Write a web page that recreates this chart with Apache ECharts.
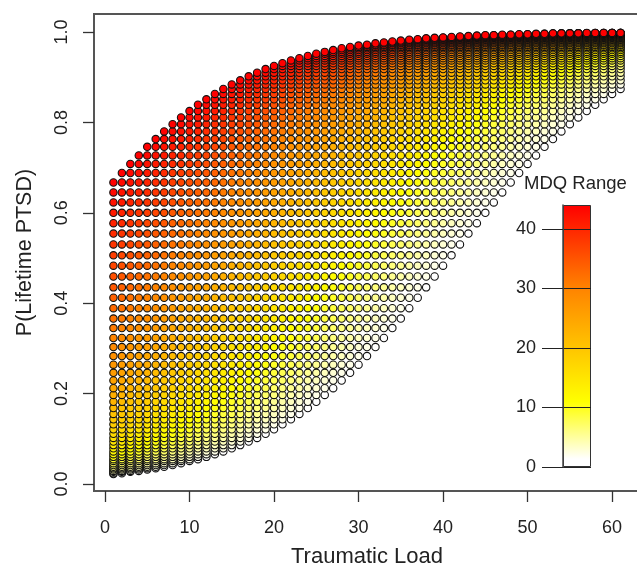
<!DOCTYPE html>
<html><head><meta charset="utf-8">
<style>html,body{margin:0;padding:0;background:#fff;overflow:hidden}#c{width:637px;height:565px}</style>
<script src="https://cdn.jsdelivr.net/npm/echarts@6/dist/echarts.min.js"></script>
</head><body><div id="c"></div>
<script>
// Traumatic load, one column of circles per value
var traumaticLoad=[];for(var t=1;t<=61;t++)traumaticLoad.push(t);
var xTicks=[0,10,20,30,40,50,60];
var yTicks=[0,0.2,0.4,0.6,0.8,1];
var barTicks=[0,10,20,30,40];
var mdqMax=[44];
// P(Lifetime PTSD) x 1000, one row per MDQ level, lowest level first
var pRows=[
[22,24,27,29,32,35,38,42,46,51,55,60,66,72,79,86,94,102,111,121,132,143,155,168,182,197,212,229,246,264,283,303,323,345,366,389,412,435,459,483,506,530,554,577,600,623,645,667,688,708,727,746,763,780,796,811,825,839,851,863,874],
[24,27,29,32,35,38,42,46,51,55,60,66,72,79,86,94,102,111,121,132,143,155,168,182,197,212,229,246,264,283,303,323,345,366,389,412,435,459,483,506,530,554,577,600,623,645,667,688,708,727,746,763,780,796,811,825,839,851,863,874,884],
[27,29,32,35,38,42,46,51,55,60,66,72,79,86,94,102,111,121,132,143,155,168,182,197,212,229,246,264,283,303,323,345,366,389,412,435,459,483,506,530,554,577,600,623,645,667,688,708,727,746,763,780,796,811,825,839,851,863,874,884,893],
[29,32,35,38,42,46,51,55,60,66,72,79,86,94,102,111,121,132,143,155,168,182,197,212,229,246,264,283,303,323,345,366,389,412,435,459,483,506,530,554,577,600,623,645,667,688,708,727,746,763,780,796,811,825,839,851,863,874,884,893,902],
[32,35,38,42,46,51,55,60,66,72,79,86,94,102,111,121,132,143,155,168,182,197,212,229,246,264,283,303,323,345,366,389,412,435,459,483,506,530,554,577,600,623,645,667,688,708,727,746,763,780,796,811,825,839,851,863,874,884,893,902,910],
[35,38,42,46,51,55,60,66,72,79,86,94,102,111,121,132,143,155,168,182,197,212,229,246,264,283,303,323,345,366,389,412,435,459,483,506,530,554,577,600,623,645,667,688,708,727,746,763,780,796,811,825,839,851,863,874,884,893,902,910,918],
[38,42,46,51,55,60,66,72,79,86,94,102,111,121,132,143,155,168,182,197,212,229,246,264,283,303,323,345,366,389,412,435,459,483,506,530,554,577,600,623,645,667,688,708,727,746,763,780,796,811,825,839,851,863,874,884,893,902,910,918,925],
[42,46,51,55,60,66,72,79,86,94,102,111,121,132,143,155,168,182,197,212,229,246,264,283,303,323,345,366,389,412,435,459,483,506,530,554,577,600,623,645,667,688,708,727,746,763,780,796,811,825,839,851,863,874,884,893,902,910,918,925,931],
[46,51,55,60,66,72,79,86,94,102,111,121,132,143,155,168,182,197,212,229,246,264,283,303,323,345,366,389,412,435,459,483,506,530,554,577,600,623,645,667,688,708,727,746,763,780,796,811,825,839,851,863,874,884,893,902,910,918,925,931,937],
[51,55,60,66,72,79,86,94,102,111,121,132,143,155,168,182,197,212,229,246,264,283,303,323,345,366,389,412,435,459,483,506,530,554,577,600,623,645,667,688,708,727,746,763,780,796,811,825,839,851,863,874,884,893,902,910,918,925,931,937,942],
[55,60,66,72,79,86,94,102,111,121,132,143,155,168,182,197,212,229,246,264,283,303,323,345,366,389,412,435,459,483,506,530,554,577,600,623,645,667,688,708,727,746,763,780,796,811,825,839,851,863,874,884,893,902,910,918,925,931,937,942,947],
[60,66,72,79,86,94,102,111,121,132,143,155,168,182,197,212,229,246,264,283,303,323,345,366,389,412,435,459,483,506,530,554,577,600,623,645,667,688,708,727,746,763,780,796,811,825,839,851,863,874,884,893,902,910,918,925,931,937,942,947,952],
[66,72,79,86,94,102,111,121,132,143,155,168,182,197,212,229,246,264,283,303,323,345,366,389,412,435,459,483,506,530,554,577,600,623,645,667,688,708,727,746,763,780,796,811,825,839,851,863,874,884,893,902,910,918,925,931,937,942,947,952,956],
[72,79,86,94,102,111,121,132,143,155,168,182,197,212,229,246,264,283,303,323,345,366,389,412,435,459,483,506,530,554,577,600,623,645,667,688,708,727,746,763,780,796,811,825,839,851,863,874,884,893,902,910,918,925,931,937,942,947,952,956,960],
[79,86,94,102,111,121,132,143,155,168,182,197,212,229,246,264,283,303,323,345,366,389,412,435,459,483,506,530,554,577,600,623,645,667,688,708,727,746,763,780,796,811,825,839,851,863,874,884,893,902,910,918,925,931,937,942,947,952,956,960,964],
[86,94,102,111,121,132,143,155,168,182,197,212,229,246,264,283,303,323,345,366,389,412,435,459,483,506,530,554,577,600,623,645,667,688,708,727,746,763,780,796,811,825,839,851,863,874,884,893,902,910,918,925,931,937,942,947,952,956,960,964,967],
[94,102,111,121,132,143,155,168,182,197,212,229,246,264,283,303,323,345,366,389,412,435,459,483,506,530,554,577,600,623,645,667,688,708,727,746,763,780,796,811,825,839,851,863,874,884,893,902,910,918,925,931,937,942,947,952,956,960,964,967,970],
[102,111,121,132,143,155,168,182,197,212,229,246,264,283,303,323,345,366,389,412,435,459,483,506,530,554,577,600,623,645,667,688,708,727,746,763,780,796,811,825,839,851,863,874,884,893,902,910,918,925,931,937,942,947,952,956,960,964,967,970,972],
[111,121,132,143,155,168,182,197,212,229,246,264,283,303,323,345,366,389,412,435,459,483,506,530,554,577,600,623,645,667,688,708,727,746,763,780,796,811,825,839,851,863,874,884,893,902,910,918,925,931,937,942,947,952,956,960,964,967,970,972,975],
[121,132,143,155,168,182,197,212,229,246,264,283,303,323,345,366,389,412,435,459,483,506,530,554,577,600,623,645,667,688,708,727,746,763,780,796,811,825,839,851,863,874,884,893,902,910,918,925,931,937,942,947,952,956,960,964,967,970,972,975,977],
[132,143,155,168,182,197,212,229,246,264,283,303,323,345,366,389,412,435,459,483,506,530,554,577,600,623,645,667,688,708,727,746,763,780,796,811,825,839,851,863,874,884,893,902,910,918,925,931,937,942,947,952,956,960,964,967,970,972,975,977,979],
[143,155,168,182,197,212,229,246,264,283,303,323,345,366,389,412,435,459,483,506,530,554,577,600,623,645,667,688,708,727,746,763,780,796,811,825,839,851,863,874,884,893,902,910,918,925,931,937,942,947,952,956,960,964,967,970,972,975,977,979,981],
[155,168,182,197,212,229,246,264,283,303,323,345,366,389,412,435,459,483,506,530,554,577,600,623,645,667,688,708,727,746,763,780,796,811,825,839,851,863,874,884,893,902,910,918,925,931,937,942,947,952,956,960,964,967,970,972,975,977,979,981,983],
[168,182,197,212,229,246,264,283,303,323,345,366,389,412,435,459,483,506,530,554,577,600,623,645,667,688,708,727,746,763,780,796,811,825,839,851,863,874,884,893,902,910,918,925,931,937,942,947,952,956,960,964,967,970,972,975,977,979,981,983,984],
[182,197,212,229,246,264,283,303,323,345,366,389,412,435,459,483,506,530,554,577,600,623,645,667,688,708,727,746,763,780,796,811,825,839,851,863,874,884,893,902,910,918,925,931,937,942,947,952,956,960,964,967,970,972,975,977,979,981,983,984,986],
[197,212,229,246,264,283,303,323,345,366,389,412,435,459,483,506,530,554,577,600,623,645,667,688,708,727,746,763,780,796,811,825,839,851,863,874,884,893,902,910,918,925,931,937,942,947,952,956,960,964,967,970,972,975,977,979,981,983,984,986,987],
[212,229,246,264,283,303,323,345,366,389,412,435,459,483,506,530,554,577,600,623,645,667,688,708,727,746,763,780,796,811,825,839,851,863,874,884,893,902,910,918,925,931,937,942,947,952,956,960,964,967,970,972,975,977,979,981,983,984,986,987,988],
[229,246,264,283,303,323,345,366,389,412,435,459,483,506,530,554,577,600,623,645,667,688,708,727,746,763,780,796,811,825,839,851,863,874,884,893,902,910,918,925,931,937,942,947,952,956,960,964,967,970,972,975,977,979,981,983,984,986,987,988,989],
[246,264,283,303,323,345,366,389,412,435,459,483,506,530,554,577,600,623,645,667,688,708,727,746,763,780,796,811,825,839,851,863,874,884,893,902,910,918,925,931,937,942,947,952,956,960,964,967,970,972,975,977,979,981,983,984,986,987,988,989,990],
[264,283,303,323,345,366,389,412,435,459,483,506,530,554,577,600,623,645,667,688,708,727,746,763,780,796,811,825,839,851,863,874,884,893,902,910,918,925,931,937,942,947,952,956,960,964,967,970,972,975,977,979,981,983,984,986,987,988,989,990,991],
[283,303,323,345,366,389,412,435,459,483,506,530,554,577,600,623,645,667,688,708,727,746,763,780,796,811,825,839,851,863,874,884,893,902,910,918,925,931,937,942,947,952,956,960,964,967,970,972,975,977,979,981,983,984,986,987,988,989,990,991,992],
[303,323,345,366,389,412,435,459,483,506,530,554,577,600,623,645,667,688,708,727,746,763,780,796,811,825,839,851,863,874,884,893,902,910,918,925,931,937,942,947,952,956,960,964,967,970,972,975,977,979,981,983,984,986,987,988,989,990,991,992,993],
[323,345,366,389,412,435,459,483,506,530,554,577,600,623,645,667,688,708,727,746,763,780,796,811,825,839,851,863,874,884,893,902,910,918,925,931,937,942,947,952,956,960,964,967,970,972,975,977,979,981,983,984,986,987,988,989,990,991,992,993,993],
[345,366,389,412,435,459,483,506,530,554,577,600,623,645,667,688,708,727,746,763,780,796,811,825,839,851,863,874,884,893,902,910,918,925,931,937,942,947,952,956,960,964,967,970,972,975,977,979,981,983,984,986,987,988,989,990,991,992,993,993,994],
[366,389,412,435,459,483,506,530,554,577,600,623,645,667,688,708,727,746,763,780,796,811,825,839,851,863,874,884,893,902,910,918,925,931,937,942,947,952,956,960,964,967,970,972,975,977,979,981,983,984,986,987,988,989,990,991,992,993,993,994,994],
[389,412,435,459,483,506,530,554,577,600,623,645,667,688,708,727,746,763,780,796,811,825,839,851,863,874,884,893,902,910,918,925,931,937,942,947,952,956,960,964,967,970,972,975,977,979,981,983,984,986,987,988,989,990,991,992,993,993,994,994,995],
[412,435,459,483,506,530,554,577,600,623,645,667,688,708,727,746,763,780,796,811,825,839,851,863,874,884,893,902,910,918,925,931,937,942,947,952,956,960,964,967,970,972,975,977,979,981,983,984,986,987,988,989,990,991,992,993,993,994,994,995,995],
[435,459,483,506,530,554,577,600,623,645,667,688,708,727,746,763,780,796,811,825,839,851,863,874,884,893,902,910,918,925,931,937,942,947,952,956,960,964,967,970,972,975,977,979,981,983,984,986,987,988,989,990,991,992,993,993,994,994,995,995,996],
[459,483,506,530,554,577,600,623,645,667,688,708,727,746,763,780,796,811,825,839,851,863,874,884,893,902,910,918,925,931,937,942,947,952,956,960,964,967,970,972,975,977,979,981,983,984,986,987,988,989,990,991,992,993,993,994,994,995,995,996,996],
[483,506,530,554,577,600,623,645,667,688,708,727,746,763,780,796,811,825,839,851,863,874,884,893,902,910,918,925,931,937,942,947,952,956,960,964,967,970,972,975,977,979,981,983,984,986,987,988,989,990,991,992,993,993,994,994,995,995,996,996,997],
[506,530,554,577,600,623,645,667,688,708,727,746,763,780,796,811,825,839,851,863,874,884,893,902,910,918,925,931,937,942,947,952,956,960,964,967,970,972,975,977,979,981,983,984,986,987,988,989,990,991,992,993,993,994,994,995,995,996,996,997,997],
[530,554,577,600,623,645,667,688,708,727,746,763,780,796,811,825,839,851,863,874,884,893,902,910,918,925,931,937,942,947,952,956,960,964,967,970,972,975,977,979,981,983,984,986,987,988,989,990,991,992,993,993,994,994,995,995,996,996,997,997,997],
[554,577,600,623,645,667,688,708,727,746,763,780,796,811,825,839,851,863,874,884,893,902,910,918,925,931,937,942,947,952,956,960,964,967,970,972,975,977,979,981,983,984,986,987,988,989,990,991,992,993,993,994,994,995,995,996,996,997,997,997,997],
[577,600,623,645,667,688,708,727,746,763,780,796,811,825,839,851,863,874,884,893,902,910,918,925,931,937,942,947,952,956,960,964,967,970,972,975,977,979,981,983,984,986,987,988,989,990,991,992,993,993,994,994,995,995,996,996,997,997,997,997,998],
[600,623,645,667,688,708,727,746,763,780,796,811,825,839,851,863,874,884,893,902,910,918,925,931,937,942,947,952,956,960,964,967,970,972,975,977,979,981,983,984,986,987,988,989,990,991,992,993,993,994,994,995,995,996,996,997,997,997,997,998,998],
[623,645,667,688,708,727,746,763,780,796,811,825,839,851,863,874,884,893,902,910,918,925,931,937,942,947,952,956,960,964,967,970,972,975,977,979,981,983,984,986,987,988,989,990,991,992,993,993,994,994,995,995,996,996,997,997,997,997,998,998,998],
[645,667,688,708,727,746,763,780,796,811,825,839,851,863,874,884,893,902,910,918,925,931,937,942,947,952,956,960,964,967,970,972,975,977,979,981,983,984,986,987,988,989,990,991,992,993,993,994,994,995,995,996,996,997,997,997,997,998,998,998,998],
[667,688,708,727,746,763,780,796,811,825,839,851,863,874,884,893,902,910,918,925,931,937,942,947,952,956,960,964,967,970,972,975,977,979,981,983,984,986,987,988,989,990,991,992,993,993,994,994,995,995,996,996,997,997,997,997,998,998,998,998,998]
];
var colorStops=[[0,'#ffffff'],[0.03,'#ffffff'],[0.25,'#ffff00'],[0.68,'#ff8400'],[1,'#ff0000']];
function levelColor(f){
  var g,b;
  if(f<0.25){g=255;b=Math.round(255*(1-f/0.25));}
  else if(f<0.68){g=Math.round(255-123*(f-0.25)/0.43);b=0;}
  else{g=Math.round(132*(1-(f-0.68)/0.32));b=0;}
  return 'rgb(255,'+g+','+b+')';
}
var series=pRows.map(function(row,i){
  return {type:'scatter',xAxisIndex:0,yAxisIndex:0,z:2,silent:true,animation:false,progressive:0,
    symbol:'circle',symbolSize:7.4,
    itemStyle:{color:levelColor(i/(pRows.length-1)),borderColor:'#111',borderWidth:1.1,opacity:1},
    data:row.map(function(v,j){return [traumaticLoad[j],v/1000];})};
});
series.push({type:'bar',xAxisIndex:1,yAxisIndex:1,z:1,silent:true,animation:false,barWidth:'100%',
  itemStyle:{borderColor:'#333',borderWidth:1,color:new echarts.graphic.LinearGradient(0,1,0,0,
    colorStops.map(function(s){return {offset:s[0],color:s[1]};}))},
  data:mdqMax});
var fam='"Liberation Sans",Arial,sans-serif',tc='#222';
var chart=echarts.init(document.getElementById('c'),null,{renderer:'canvas'});
chart.setOption({
  animation:false,backgroundColor:'#fff',
  title:{text:'MDQ Range',left:519,top:169,textStyle:{fontFamily:fam,fontSize:18.5,fontWeight:'normal',color:tc}},
  grid:[
    {left:94,top:14,width:546,height:477,outerBoundsMode:'none',show:true,borderColor:'#555',borderWidth:2,backgroundColor:'#fff'},
    {left:563,top:205,width:28,height:262,outerBoundsMode:'none',show:false}
  ],
  xAxis:[
    {type:'value',gridIndex:0,min:-1.3,max:63.3,splitLine:{show:false},axisLine:{show:false,onZero:false},
     axisTick:{show:true,length:11,customValues:xTicks,lineStyle:{color:'#333',width:1.3}},
     axisLabel:{customValues:xTicks,margin:28,fontFamily:fam,fontSize:18,color:tc},
     name:'Traumatic Load',nameLocation:'middle',nameGap:55,nameTextStyle:{fontFamily:fam,fontSize:22,color:tc}},
    {type:'category',gridIndex:1,data:['MDQ'],show:false}
  ],
  yAxis:[
    {type:'value',gridIndex:0,min:-0.0155,max:1.0398,splitLine:{show:false},axisLine:{show:false,onZero:false},
     axisTick:{show:true,length:11,customValues:yTicks,lineStyle:{color:'#333',width:1.3}},
     axisLabel:{customValues:yTicks,rotate:90,margin:23,fontFamily:fam,fontSize:18,color:tc,
       formatter:function(v){return v.toFixed(1);}},
     name:'P(Lifetime PTSD)',nameLocation:'middle',nameGap:58,nameTextStyle:{fontFamily:fam,fontSize:21.5,color:tc}},
    {type:'value',gridIndex:1,min:0,max:44,z:5,
     axisLine:{show:true,onZero:false,lineStyle:{color:'#444',width:1.5}},
     axisTick:{show:true,length:21,customValues:barTicks,lineStyle:{color:'#222',width:1}},
     axisLabel:{customValues:barTicks,margin:27,fontFamily:fam,fontSize:18,color:tc},
     splitLine:{show:true,lineStyle:{color:'#222',width:1,type:'solid'}}}
  ],
  series:series
});
</script></body></html>
